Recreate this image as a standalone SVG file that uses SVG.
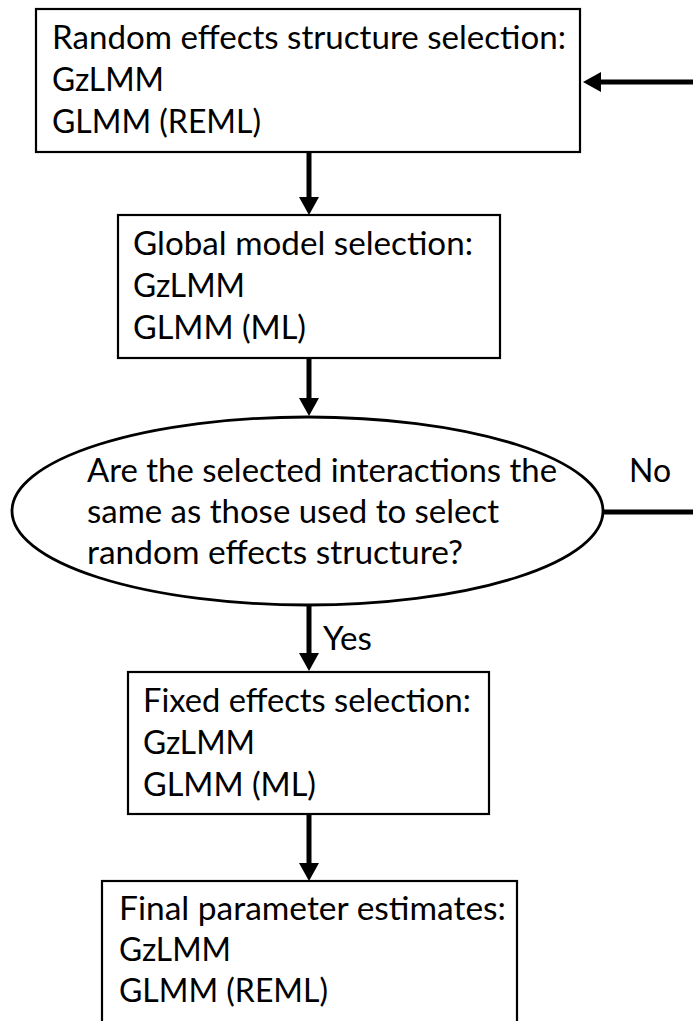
<svg xmlns="http://www.w3.org/2000/svg" width="693" height="1021" viewBox="0 0 693 1021">
<style>
.box{fill:#fff;stroke:#000;stroke-width:2.2}
.dec{fill:#fff;stroke:#000;stroke-width:2.8}
.t{font-family:Lato,"Open Sans","Liberation Sans",sans-serif;font-size:32px;fill:#000}
.c{fill:none;stroke:#000;stroke-width:5}
</style>
<defs>
<marker id="ah" markerUnits="userSpaceOnUse" markerWidth="20" markerHeight="22" refX="1" refY="10" orient="auto" overflow="visible">
<path d="M0,0 L18,10 L0,20 Z" fill="#000"/>
</marker>
</defs>
<rect width="693" height="1021" fill="#fff"/>
<g id="connectors">
<line class="c" x1="309" y1="153" x2="309" y2="198" marker-end="url(#ah)"/>
<line class="c" x1="309" y1="359" x2="309" y2="399" marker-end="url(#ah)"/>
<line class="c" x1="309" y1="606" x2="309" y2="654" marker-end="url(#ah)"/>
<line class="c" x1="309" y1="815" x2="309" y2="864" marker-end="url(#ah)"/>
<path class="c" d="M603,512 H699 V82 H600" marker-end="url(#ah)"/>
<text class="t" x="629" y="482" textLength="42" lengthAdjust="spacingAndGlyphs">No</text>
<text class="t" x="323" y="650" textLength="49" lengthAdjust="spacingAndGlyphs">Yes</text>
</g>
<g id="random-effects">
<rect class="box" x="36" y="9" width="544" height="143"/>
<text class="t" x="52" y="49" textLength="514" lengthAdjust="spacingAndGlyphs">Random effects structure selection:</text>
<text class="t" x="52" y="91" textLength="112" lengthAdjust="spacingAndGlyphs">GzLMM</text>
<text class="t" x="52" y="133" textLength="209" lengthAdjust="spacingAndGlyphs">GLMM (REML)</text>
</g>
<g id="global-model">
<rect class="box" x="118" y="215" width="382" height="143"/>
<text class="t" x="133" y="255" textLength="340" lengthAdjust="spacingAndGlyphs">Global model selection:</text>
<text class="t" x="133" y="297" textLength="112" lengthAdjust="spacingAndGlyphs">GzLMM</text>
<text class="t" x="133" y="339" textLength="173" lengthAdjust="spacingAndGlyphs">GLMM (ML)</text>
</g>
<g id="decision">
<ellipse class="dec" cx="307.5" cy="511" rx="295.5" ry="94"/>
<text class="t" x="87" y="482" textLength="470" lengthAdjust="spacingAndGlyphs">Are the selected interactions the</text>
<text class="t" x="87" y="523" textLength="412" lengthAdjust="spacingAndGlyphs">same as those used to select</text>
<text class="t" x="87" y="564" textLength="376" lengthAdjust="spacingAndGlyphs">random effects structure?</text>
</g>
<g id="fixed-effects">
<rect class="box" x="128" y="672" width="361" height="142"/>
<text class="t" x="143" y="712" textLength="328" lengthAdjust="spacingAndGlyphs">Fixed effects selection:</text>
<text class="t" x="143" y="754" textLength="112" lengthAdjust="spacingAndGlyphs">GzLMM</text>
<text class="t" x="143" y="796" textLength="173" lengthAdjust="spacingAndGlyphs">GLMM (ML)</text>
</g>
<g id="final-estimates">
<rect class="box" x="102" y="881" width="415" height="150"/>
<text class="t" x="119" y="920" textLength="387" lengthAdjust="spacingAndGlyphs">Final parameter estimates:</text>
<text class="t" x="119" y="961" textLength="112" lengthAdjust="spacingAndGlyphs">GzLMM</text>
<text class="t" x="119" y="1002" textLength="209" lengthAdjust="spacingAndGlyphs">GLMM (REML)</text>
</g>
</svg>
